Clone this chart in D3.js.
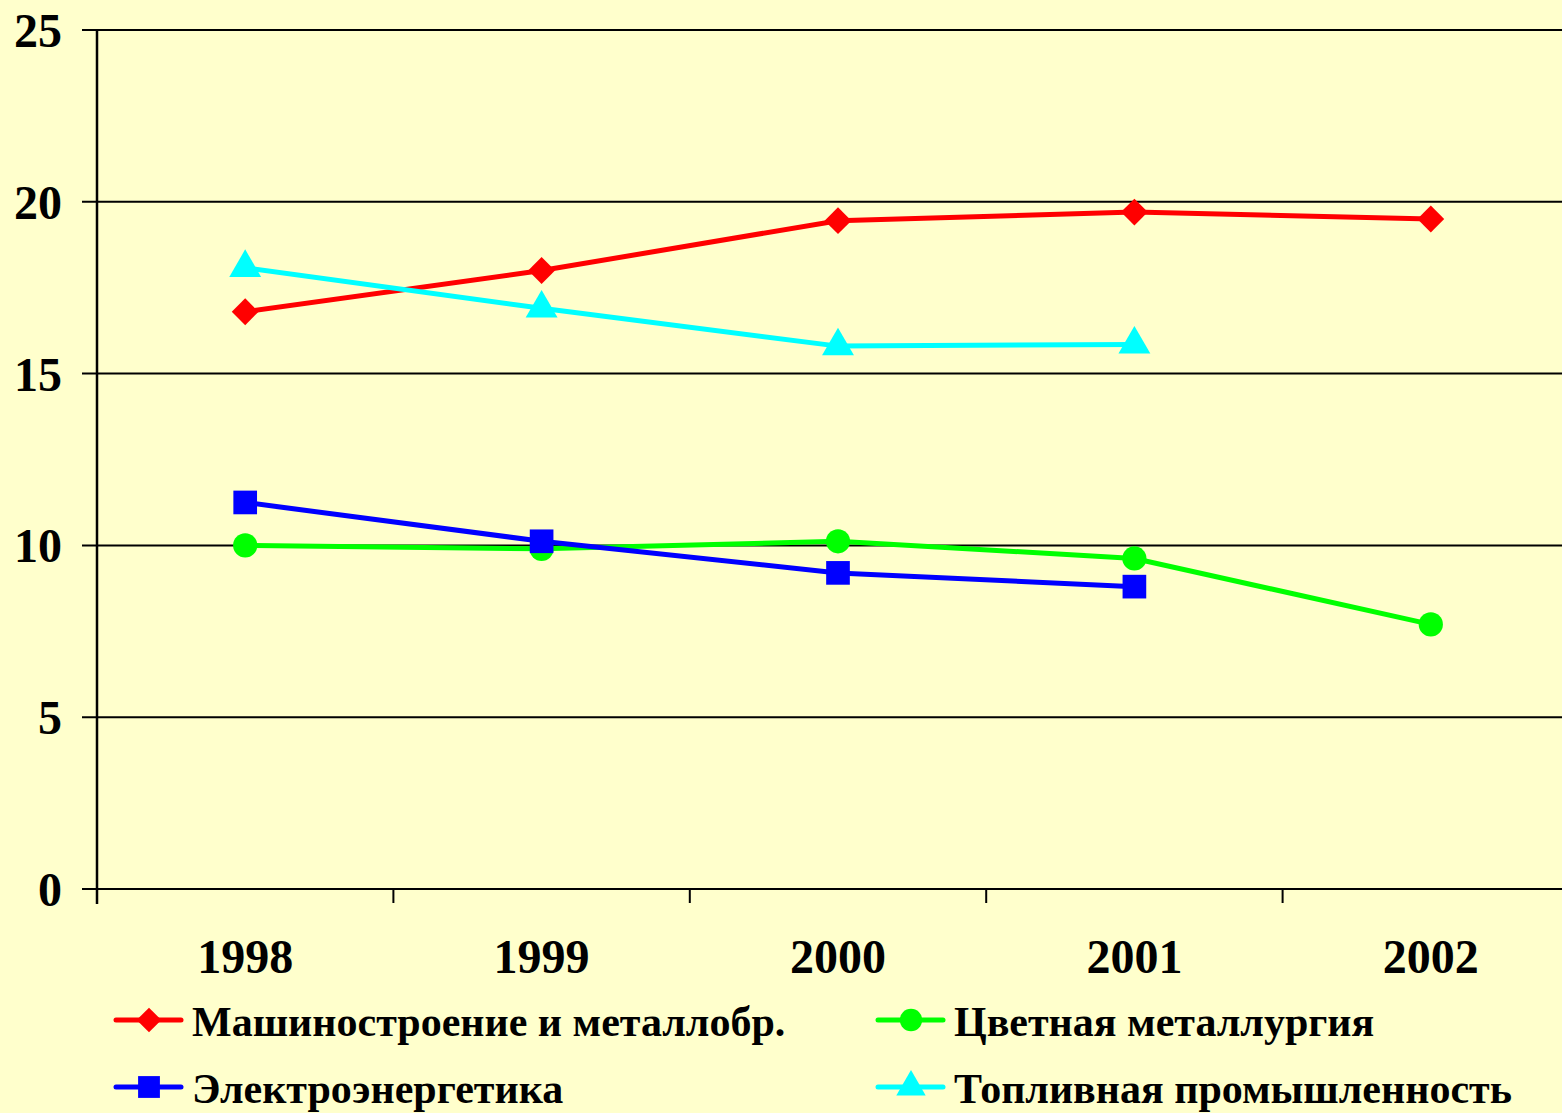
<!doctype html>
<html>
<head>
  <meta charset="utf-8">
  <script src="https://d3js.org/d3.v7.min.js"></script>
  <style>
    body { margin:0; background:#ffffcc; overflow:hidden; }
    text { font-family:"Liberation Serif","Times New Roman",serif; font-weight:bold; fill:#000; }
  </style>
</head>
<body>
  <script>
    // data
    var years = ["1998", "1999", "2000", "2001", "2002"];
    var yTicks = [0, 5, 10, 15, 20, 25];
    var machine = [16.8, 18.0, 19.45, 19.7, 19.5];
    var nonferrous = [10.0, 9.9, 10.12, 9.62, 7.7];
    var power = [11.25, 10.12, 9.2, 8.8, null];
    var fuel = [18.08, 16.9, 15.8, 15.85, null];

    var seriesNames = ["Машиностроение и металлобр.", "Цветная металлургия", "Электроэнергетика", "Топливная промышленность"];
    var seriesColors = ["#ff0000", "#00ff00", "#0000ff", "#00ffff"];
    var seriesShapes = ["diamond", d3.symbolCircle, d3.symbolSquare, d3.symbolTriangle];
    var seriesSizes = [360, 460, 560, 440];
    var seriesValues = [machine, nonferrous, power, fuel];

    var width = 1562, height = 1113;
    var svg = d3.select("body").append("svg")
      .attr("width", width)
      .attr("height", height);

    svg.append("rect").attr("width", width).attr("height", height).attr("fill", "#ffffcc");

    var plotLeft = 97, plotTop = 30, plotBottom = 889;
    var plotRight = 97 + 5 * 296.4;

    var x = d3.scaleBand().domain(years).range([plotLeft, plotRight]);
    var y = d3.scaleLinear().domain([0, 25]).range([plotBottom, plotTop]);

    // marker path, diamond is a rotated square
    function marker(s, size) {
      if (seriesShapes[s] === "diamond") {
        return d3.symbol().type(d3.symbolSquare).size(size)();
      }
      return d3.symbol().type(seriesShapes[s]).size(size)();
    }
    function markerRot(s) {
      return seriesShapes[s] === "diamond" ? " rotate(45)" : "";
    }

    // horizontal gridlines + y ticks
    svg.append("g")
      .selectAll("line")
      .data(yTicks)
      .enter()
      .append("line")
      .attr("x1", plotLeft - 15)
      .attr("x2", width)
      .attr("y1", function(d) { return y(d); })
      .attr("y2", function(d) { return y(d); })
      .attr("stroke", "#000")
      .attr("stroke-width", 2);

    svg.append("g")
      .selectAll("text")
      .data(yTicks)
      .enter()
      .append("text")
      .attr("x", 62)
      .attr("y", function(d) { return y(d) + 17; })
      .attr("text-anchor", "end")
      .attr("font-size", 48)
      .text(function(d) { return d; });

    // y axis line
    svg.append("line")
      .attr("x1", plotLeft).attr("x2", plotLeft)
      .attr("y1", plotTop).attr("y2", plotBottom + 15)
      .attr("stroke", "#000").attr("stroke-width", 2.5);

    // x axis ticks at band boundaries
    var bounds = years.map(function(d) { return x(d); }).concat([plotRight]);
    svg.append("g")
      .selectAll("line")
      .data(bounds.slice(1))
      .enter()
      .append("line")
      .attr("x1", function(d) { return d; })
      .attr("x2", function(d) { return d; })
      .attr("y1", plotBottom)
      .attr("y2", plotBottom + 14)
      .attr("stroke", "#000")
      .attr("stroke-width", 2);

    svg.append("g")
      .selectAll("text")
      .data(years)
      .enter()
      .append("text")
      .attr("x", function(d) { return x(d) + x.bandwidth() / 2; })
      .attr("y", 973)
      .attr("text-anchor", "middle")
      .attr("font-size", 48)
      .text(function(d) { return d; });

    // series lines and markers
    var line = d3.line()
      .defined(function(d) { return d != null; })
      .x(function(d, i) { return x(years[i]) + x.bandwidth() / 2; })
      .y(function(d) { return y(d); });

    seriesValues.forEach(function(vals, s) {
      svg.append("path")
        .attr("d", line(vals))
        .attr("fill", "none")
        .attr("stroke", seriesColors[s])
        .attr("stroke-width", 5);

      svg.append("g")
        .selectAll("path")
        .data(vals.map(function(v, i) { return { v: v, i: i }; }).filter(function(d) { return d.v != null; }))
        .enter()
        .append("path")
        .attr("transform", function(d) {
          return "translate(" + (x(years[d.i]) + x.bandwidth() / 2) + "," + y(d.v) + ")" + markerRot(s);
        })
        .attr("d", marker(s, seriesSizes[s]))
        .attr("fill", seriesColors[s]);
    });

    // legend
    var legendPos = [[116, 1020], [878, 1020], [116, 1087], [878, 1087]];
    seriesNames.forEach(function(name, s) {
      var p = legendPos[s];
      var g = svg.append("g").attr("transform", "translate(" + p[0] + "," + p[1] + ")");
      g.append("line")
        .attr("x1", 0).attr("x2", 65)
        .attr("stroke", seriesColors[s])
        .attr("stroke-width", 5)
        .attr("stroke-linecap", "round");
      g.append("path")
        .attr("transform", "translate(33,0)" + markerRot(s))
        .attr("d", marker(s, seriesSizes[s] * 0.85))
        .attr("fill", seriesColors[s]);
      g.append("text")
        .attr("x", 76)
        .attr("y", 16)
        .attr("font-size", 42)
        .text(name);
    });
  </script>
</body>
</html>
